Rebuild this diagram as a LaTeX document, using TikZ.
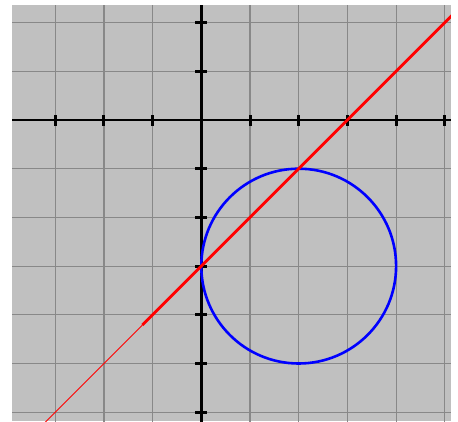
\documentclass[tikz,border=0pt]{standalone}
\definecolor{bggray}{RGB}{192,192,192}
\definecolor{gridgray}{RGB}{136,136,136}
\begin{document}
\begin{tikzpicture}[x=1pt,y=1pt,
  gridline/.style={draw=gridgray,line width=1.2pt},
  axisline/.style={draw=black,line width=2.8pt},
  tickmark/.style={draw=black,line width=3pt},
  circ/.style={draw=blue,line width=2.6pt},
  thickred/.style={draw=red,line width=2.8pt},
  thinred/.style={draw=red,line width=0.9pt}]
\useasboundingbox (0,-421) rectangle (458,0);
\fill[bggray] (12,-421) rectangle (451,-5);
\begin{scope}[shift={(201.3,-120)},x=48.7pt,y=48.7pt]
  \clip (-3.887,-6.181) rectangle (5.127,2.361);
  % grid
  \foreach \k in {-3,...,5} \draw[gridline] (\k,-6.3) -- (\k,2.5);
  \foreach \k in {-6,...,2} \draw[gridline] (-4,\k) -- (5.3,\k);
  % axes
  \draw[axisline] (-4,0) -- (5.3,0);
  \draw[axisline] (0,-6.3) -- (0,2.5);
  \foreach \k in {-3,-2,-1,1,2,3,4,5} \draw[tickmark] (\k,0) ++(0,-5.5pt) -- ++(0,11pt);
  \foreach \k in {-6,-5,-4,-3,-2,-1,1,2} \draw[tickmark] (0,\k) ++(-6pt,0) -- ++(12pt,0);
  % circle
  \draw[circ] (2,-3) circle (2);
  % line y = x - 3
  \coordinate (lowend) at (-3.4,-6.4);
  \coordinate (mid) at (-1.21,-4.21);
  \coordinate (highend) at (5.3,2.3);
  \draw[thinred] (lowend) -- (mid);
  \draw[thickred] (mid) -- (highend);
\end{scope}
\end{tikzpicture}
\end{document}
